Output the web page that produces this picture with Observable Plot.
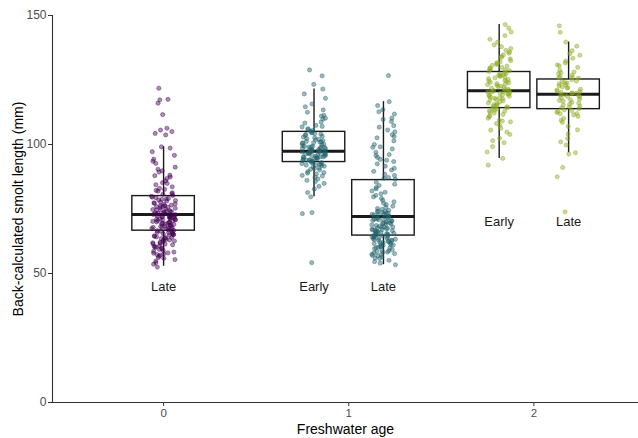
<!DOCTYPE html>
<html><head><meta charset="utf-8">
<script src="https://cdn.jsdelivr.net/npm/d3@7"></script>
<script src="https://cdn.jsdelivr.net/npm/@observablehq/plot@0.6"></script>
<style>html,body{margin:0;padding:0;background:#fff;overflow:hidden}</style>
</head><body><div id="chart"></div>
<script>
// ---- data ----
const xTicks = [0, 1, 2];
const yTicks = [0, 50, 100, 150];
const xTitle = "Freshwater age";
const yTitle = "Back-calculated smolt length (mm)";

const groupAge = [0, 1, 1, 2, 2];
const groupPeriod = ["Late", "Early", "Late", "Early", "Late"];
const boxQ1 = [66.6, 93.2, 64.7, 114.1, 113.7];
const boxMedian = [72.9, 97.4, 72.1, 120.8, 119.5];
const boxQ3 = [80.0, 104.9, 86.2, 128.1, 125.2];
const whiskerLow = [52.8, 79.7, 53.4, 94.6, 96.8];
const whiskerHigh = [99.1, 121.5, 116.6, 146.5, 139.7];
const labelY = [44.7, 44.7, 44.7, 70, 70];

const age0Late = [
72.4, 65.1, 78.9, 58.3, 70.2, 83.6, 61.7, 74.8, 67.9, 91.2, 55.4, 73.1, 69.5, 76.3, 63.2, 87.4, 71.6, 59.8, 80.7, 66.2,
75.5, 62.4, 94.3, 68.8, 73.9, 57.1, 79.4, 70.9, 64.6, 85.2, 72.0, 60.5, 77.2, 67.3, 98.6, 53.6, 74.1, 69.0, 81.9, 63.9,
71.2, 56.7, 76.8, 65.8, 89.3, 73.5, 61.1, 78.1, 68.2, 72.8, 58.9, 84.4, 70.5, 66.7, 75.0, 62.9, 92.7, 71.9, 54.8, 79.9,
67.6, 74.4, 60.1, 82.6, 69.8, 65.4, 77.7, 63.5, 86.8, 72.6, 57.6, 76.0, 68.5, 71.4, 59.3, 80.2, 64.2, 73.3, 95.8, 66.9,
70.0, 61.9, 78.5, 67.1, 88.1, 74.7, 55.9, 72.2, 69.3, 83.0, 62.1, 75.9, 65.6, 71.0, 58.0, 79.1, 68.0, 90.4, 73.7, 60.8,
77.4, 66.4, 70.7, 63.0, 81.3, 74.0, 57.3, 69.6, 85.9, 72.9, 64.9, 76.5, 61.4, 67.8, 93.5, 71.7, 59.6, 78.3, 65.0, 73.0,
56.2, 80.9, 68.7, 75.3, 62.6, 97.2, 70.4, 66.0, 77.0, 52.5, 72.5, 64.0, 84.9, 69.2, 74.6, 60.3, 79.6, 67.4, 87.9, 71.3,
58.6, 76.2, 65.3, 70.8, 82.2, 63.7, 73.6, 99.1, 68.4, 61.5, 75.7, 66.6, 89.8, 54.2, 72.1, 69.9, 78.7, 64.4, 71.8, 57.9,
103.7, 104.3, 105.0, 105.6, 106.3, 111.6, 116.0, 117.3, 117.5, 121.8
];
const age1Early = [
97.1, 92.4, 101.8, 88.6, 95.3, 104.2, 99.0, 86.1, 96.5, 108.7, 93.8, 98.2, 90.7, 102.9, 94.6, 111.3, 97.8, 84.9, 100.4, 95.9,
106.1, 92.9, 98.8, 89.5, 103.5, 96.2, 114.6, 94.1, 99.6, 87.3, 101.2, 97.5, 91.6, 105.4, 95.0, 109.8, 93.4, 98.5, 82.7, 100.9,
96.8, 104.7, 92.1, 97.3, 117.9, 94.9, 99.3, 88.0, 102.3, 95.6, 107.4, 93.0, 98.0, 90.2, 103.9, 96.0, 112.5, 94.3, 100.1, 85.6,
97.6, 101.5, 91.9, 95.4, 106.8, 93.6, 99.8, 89.1, 104.0, 96.4, 110.2, 92.6, 98.4, 81.4, 102.6, 95.2, 115.7, 94.5, 97.0, 87.8,
100.7, 96.6, 105.8, 93.2, 99.1, 90.9, 103.2, 97.9, 108.3, 92.3, 95.8, 86.7, 101.0, 94.0, 113.4, 98.6, 91.3, 104.5, 96.9, 119.6,
93.9, 99.4, 88.9, 102.0, 95.1, 107.0, 97.4, 83.8, 100.6, 94.7, 121.5, 92.0, 98.9, 90.4, 105.1, 96.3, 111.0, 79.7,
73.2, 73.6, 54.2, 123.3, 126.6, 128.9
];
const age1Late = [
71.8, 63.5, 88.4, 58.2, 69.1, 95.7, 66.3, 74.9, 61.0, 103.8, 72.6, 56.4, 80.3, 67.7, 64.1, 110.2, 70.5, 59.9, 84.6, 65.2,
73.4, 62.3, 99.1, 68.6, 55.1, 77.8, 64.8, 71.1, 92.5, 60.6, 66.9, 106.7, 73.9, 57.7, 82.0, 63.0, 69.7, 113.5, 65.9, 75.6,
61.8, 97.0, 70.1, 58.8, 86.9, 67.2, 64.4, 101.4, 72.3, 54.6, 79.1, 66.0, 62.7, 108.9, 68.9, 74.2, 60.2, 90.8, 71.4, 63.8,
94.2, 57.0, 76.7, 65.5, 69.4, 104.9, 61.4, 83.3, 67.0, 72.9, 59.3, 98.3, 64.6, 70.8, 56.0, 88.0, 66.6, 115.1, 62.0, 74.5,
68.3, 60.9, 81.5, 73.1, 63.3, 102.6, 58.5, 71.6, 93.4, 65.8, 67.5, 109.7, 61.6, 78.4, 70.3, 55.8, 85.4, 64.2, 96.1, 72.0,
59.6, 69.9, 107.3, 66.4, 62.9, 80.9, 75.2, 57.3, 91.6, 68.1, 63.6, 100.0, 71.2, 60.4, 87.2, 65.0, 111.8, 73.7, 58.0, 77.2,
67.9, 62.5, 95.0, 69.5, 54.0, 84.1, 64.9, 105.6, 72.7, 61.2, 79.7, 66.8, 59.1, 98.9, 70.6, 63.1, 89.6, 68.0, 116.6, 56.8,
74.0, 65.6, 82.8, 60.0, 93.9, 71.0, 64.0, 103.1, 67.4, 57.5, 86.5, 62.2, 76.1, 69.2, 112.7, 58.3, 73.3, 65.3, 90.1, 53.4,
126.7
];
const age2Early = [
121.3, 115.8, 129.6, 110.2, 124.1, 118.7, 135.4, 112.9, 126.8, 119.5, 106.3, 131.7, 117.2, 122.9, 140.8, 114.6, 127.5, 120.1, 103.9, 133.2,
116.4, 123.6, 109.5, 128.9, 119.0, 137.9, 113.3, 125.2, 121.8, 100.7, 130.4, 117.9, 124.7, 111.6, 143.6, 120.6, 127.0, 115.2, 108.1, 134.1,
118.3, 122.4, 112.2, 129.1, 120.4, 138.6, 114.0, 126.1, 99.2, 131.0, 116.9, 123.2, 107.4, 128.3, 121.0, 136.5, 113.7, 125.8, 119.8, 104.8,
132.5, 117.5, 124.4, 110.8, 146.5, 122.1, 127.9, 115.5, 102.4, 133.8, 118.9, 123.9, 111.1, 129.9, 120.9, 139.7, 114.3, 126.4, 97.1, 130.7,
116.1, 122.6, 108.8, 128.6, 119.3, 135.9, 112.5, 125.5, 121.5, 105.6, 131.4, 117.7, 124.9, 109.1, 142.2, 120.3, 127.3, 115.0, 94.6, 134.7,
118.1, 123.4, 113.0, 129.4, 119.6, 137.2, 114.8, 126.6, 101.5, 132.0, 92.0, 145.1
];
const age2Late = [
119.8, 114.5, 126.3, 110.9, 122.0, 117.1, 131.6, 112.4, 124.6, 120.2, 105.7, 128.8, 116.3, 121.4, 135.2, 113.9, 125.7, 118.6, 102.3, 129.9,
115.6, 123.1, 108.6, 127.4, 119.1, 133.4, 112.0, 124.0, 120.7, 99.8, 130.5, 116.8, 122.7, 110.1, 138.1, 118.2, 125.1, 114.9, 107.0, 132.3,
117.6, 121.1, 111.5, 126.9, 119.4, 136.4, 113.4, 123.8, 101.0, 128.1, 115.3, 120.5, 104.1, 127.8, 118.9, 134.6, 112.8, 124.3, 117.3, 109.4,
121.9, 116.0, 125.9, 113.1, 139.7, 119.9, 123.5, 114.2, 96.8, 130.9, 118.4, 122.3, 111.9, 126.0, 120.0,
143.5, 146.0, 96.3, 91.1, 87.5, 73.9
];
const groupValues = [age0Late, age1Early, age1Late, age2Early, age2Late];
const ageColors = ["#440154", "#22636d", "#8aab20"];

// ---- layout (dodge like ggplot: width 0.75, box 0.9 of slot) ----
const dodgeWidth = 0.75, boxHalf = 0.75 / 2 * 0.9 / 2, jitterHalf = 0.065;
function groupCenter(i) {
  const same = groupAge.map((a, k) => k).filter(k => groupAge[k] === groupAge[i]);
  const n = same.length, pos = same.indexOf(i);
  const slot = dodgeWidth / n;
  return groupAge[i] - dodgeWidth / 2 + slot * (pos + 0.5);
}
const boxes = groupAge.map((age, i) => ({
  age, period: groupPeriod[i], cx: groupCenter(i),
  q1: boxQ1[i], median: boxMedian[i], q3: boxQ3[i],
  lo: whiskerLow[i], hi: whiskerHigh[i], ly: labelY[i]
}));
const jitter = d3.randomLcg(7);
const points = [];
groupValues.forEach((vals, i) => vals.forEach(v => {
  points.push({age: groupAge[i], x: boxes[i].cx + (jitter() - 0.5) * 2 * jitterHalf, y: v});
}));

const ink = "#1a1a1a", axisInk = "#333333";
const chart = Plot.plot({
  width: 638, height: 438,
  marginLeft: 52, marginRight: 0, marginTop: 15, marginBottom: 36,
  style: {fontFamily: "'Liberation Sans', Arimo, Arial, sans-serif", fontSize: "12px", background: "#fff"},
  x: {domain: [-0.6, 2.565], axis: null},
  y: {domain: [0, 150], axis: null},
  color: {type: "ordinal", domain: [0, 1, 2], range: ageColors},
  marks: [
    Plot.ruleX(boxes, {x: "cx", y1: "lo", y2: "q1", stroke: ink, strokeWidth: 1.4}),
    Plot.ruleX(boxes, {x: "cx", y1: "q3", y2: "hi", stroke: ink, strokeWidth: 1.4}),
    Plot.rect(boxes, {x1: d => d.cx - boxHalf, x2: d => d.cx + boxHalf, y1: "q1", y2: "q3", fill: "none", stroke: ink, strokeWidth: 1.4}),
    Plot.ruleY(boxes, {x1: d => d.cx - boxHalf, x2: d => d.cx + boxHalf, y: "median", stroke: ink, strokeWidth: 3}),
    Plot.dot(points, {x: "x", y: "y", r: 2.1, fill: "age", fillOpacity: 0.45, stroke: "age", strokeOpacity: 0.65, strokeWidth: 0.6}),
    Plot.text(boxes, {x: "cx", y: "ly", text: "period", fontSize: 13, fill: ink}),
    Plot.ruleX([-0.6], {stroke: axisInk, strokeWidth: 1.1}),
    Plot.ruleY([0], {stroke: axisInk, strokeWidth: 1.1}),
    Plot.axisY({ticks: yTicks, tickSize: 4, tickPadding: 2, fontSize: 12, color: "#4d4d4d", stroke: axisInk, label: null}),
    Plot.axisX({ticks: xTicks, tickSize: 4, tickPadding: 2, fontSize: 11.5, color: "#4d4d4d", stroke: axisInk, label: null, tickFormat: d3.format("d")}),
    Plot.text([xTitle], {frameAnchor: "bottom", dy: 27, textAnchor: "middle", lineAnchor: "middle", fontSize: 14, fill: "#000"}),
    Plot.text([yTitle], {frameAnchor: "left", dx: -34, rotate: -90, textAnchor: "middle", lineAnchor: "middle", fontSize: 14, fill: "#000"})
  ]
});
document.getElementById("chart").appendChild(chart);
</script>
</body></html>
